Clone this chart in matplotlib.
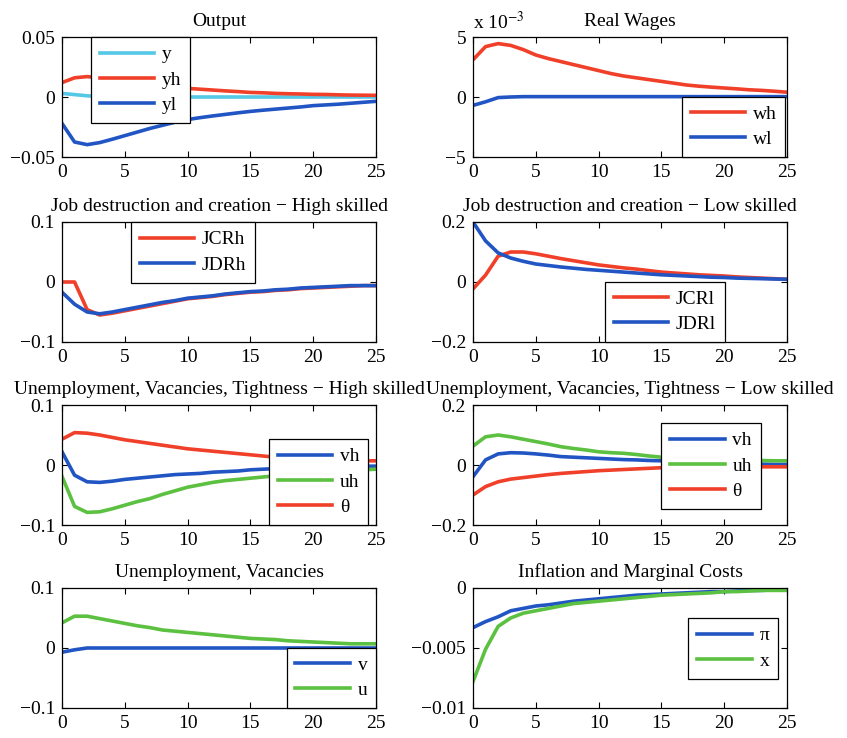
import matplotlib
matplotlib.use("Agg")
import matplotlib.pyplot as plt

plt.rcParams["font.family"] = ["Liberation Serif", "DejaVu Serif"]
plt.rcParams["mathtext.fontset"] = "stix"

periods = list(range(26))

# Output
y_tot = [0.003, 0.002, 0.001, 0.0005, 0.0003, 0.0002, 0.0001] + [0.0] * 19
yh = [0.012, 0.016, 0.017, 0.016, 0.0145, 0.013, 0.0118, 0.0105, 0.0093, 0.0082, 0.0072,
      0.0065, 0.0058, 0.0051, 0.0045, 0.0038, 0.0035, 0.003, 0.0027, 0.0025, 0.0022,
      0.0021, 0.0018, 0.0016, 0.0015, 0.0014]
yl = [-0.022, -0.0375, -0.0397, -0.038, -0.0352, -0.0322, -0.0292, -0.0262, -0.0236, -0.021,
      -0.0188, -0.0172, -0.0158, -0.0145, -0.0132, -0.012, -0.011, -0.0101, -0.0092, -0.0083,
      -0.0072, -0.0066, -0.006, -0.0052, -0.0044, -0.0036]

# Real wages (x 1e-3)
wh = [3.1, 4.2, 4.45, 4.3, 3.95, 3.5, 3.2, 2.95, 2.7, 2.45, 2.2, 1.95, 1.75, 1.6, 1.45, 1.3,
      1.15, 1.0, 0.9, 0.82, 0.75, 0.68, 0.6, 0.55, 0.48, 0.4]
wl = [-0.7, -0.4, -0.05, 0.0] + [0.03] * 22

# Job destruction / creation, high skilled
jcrh = [0.0, 0.0, -0.046, -0.055, -0.052, -0.048, -0.044, -0.04, -0.036, -0.032, -0.028,
        -0.026, -0.024, -0.021, -0.019, -0.017, -0.016, -0.014, -0.013, -0.011, -0.01,
        -0.009, -0.008, -0.007, -0.006, -0.006]
jdrh = [-0.017, -0.037, -0.05, -0.053, -0.05, -0.046, -0.042, -0.038, -0.034, -0.031, -0.027,
        -0.025, -0.023, -0.02, -0.018, -0.016, -0.015, -0.013, -0.012, -0.01, -0.009,
        -0.008, -0.007, -0.006, -0.006, -0.006]

# Job destruction / creation, low skilled
jcrl = [-0.023, 0.023, 0.086, 0.1, 0.1, 0.094, 0.086, 0.078, 0.071, 0.064, 0.057, 0.052,
        0.047, 0.043, 0.038, 0.033, 0.03, 0.027, 0.024, 0.022, 0.02, 0.017, 0.015, 0.013,
        0.011, 0.009]
jdrl = [0.2, 0.137, 0.097, 0.08, 0.069, 0.06, 0.055, 0.05, 0.046, 0.042, 0.039, 0.036, 0.033,
        0.03, 0.027, 0.024, 0.022, 0.02, 0.018, 0.016, 0.015, 0.013, 0.012, 0.011, 0.01, 0.009]

# Unemployment, vacancies, tightness - high skilled
vh_h = [0.022, -0.017, -0.028, -0.029, -0.027, -0.024, -0.022, -0.02, -0.018, -0.016, -0.015,
        -0.014, -0.012, -0.011, -0.01, -0.008, -0.007, -0.006, -0.005, -0.005, -0.004,
        -0.004, -0.003, -0.003, -0.002, -0.002]
uh_h = [-0.019, -0.069, -0.079, -0.078, -0.073, -0.067, -0.061, -0.056, -0.049, -0.043,
        -0.037, -0.033, -0.029, -0.026, -0.024, -0.022, -0.02, -0.018, -0.016, -0.014,
        -0.013, -0.011, -0.01, -0.009, -0.008, -0.007]
th_h = [0.043, 0.054, 0.053, 0.05, 0.046, 0.042, 0.039, 0.036, 0.033, 0.03, 0.027, 0.025,
        0.023, 0.021, 0.019, 0.017, 0.015, 0.013, 0.012, 0.011, 0.01, 0.009, 0.008, 0.008,
        0.007, 0.007]

# Unemployment, vacancies, tightness - low skilled
vh_l = [-0.039, 0.017, 0.037, 0.041, 0.04, 0.037, 0.033, 0.028, 0.026, 0.024, 0.022, 0.02,
        0.018, 0.017, 0.015, 0.014, 0.012, 0.011, 0.009, 0.008, 0.006, 0.005, 0.004, 0.003,
        0.002, 0.002]
uh_l = [0.063, 0.094, 0.1, 0.094, 0.086, 0.078, 0.07, 0.061, 0.055, 0.05, 0.044, 0.041, 0.039,
        0.035, 0.03, 0.026, 0.024, 0.022, 0.02, 0.018, 0.017, 0.016, 0.015, 0.015, 0.014, 0.014]
th_l = [-0.1, -0.072, -0.056, -0.047, -0.042, -0.037, -0.032, -0.028, -0.025, -0.022, -0.019,
        -0.017, -0.015, -0.013, -0.011, -0.009, -0.008, -0.008, -0.007, -0.007, -0.006,
        -0.006, -0.006, -0.006, -0.006, -0.006]

# Unemployment, vacancies
v_tot = [-0.007, -0.003] + [0.0] * 24
u_tot = [0.042, 0.053, 0.053, 0.049, 0.045, 0.041, 0.037, 0.034, 0.03, 0.028, 0.026, 0.024,
         0.022, 0.02, 0.018, 0.016, 0.015, 0.014, 0.012, 0.011, 0.01, 0.009, 0.008, 0.007,
         0.007, 0.007]

# Inflation and marginal costs
infl = [-0.0033, -0.0028, -0.0024, -0.0019, -0.0017, -0.0015, -0.0014, -0.00125, -0.0011,
        -0.001, -0.0009, -0.0008, -0.0007, -0.0006, -0.00055, -0.0005, -0.00045, -0.0004,
        -0.00035, -0.0003, -0.0003, -0.00025, -0.0002, -0.0002, -0.00015, -0.00015]
mc = [-0.0078, -0.0051, -0.0032, -0.0025, -0.0021, -0.0019, -0.0017, -0.0015, -0.0013, -0.0012,
      -0.0011, -0.001, -0.0009, -0.0008, -0.0007, -0.0006, -0.00055, -0.0005, -0.00045,
      -0.0004, -0.0003, -0.0003, -0.00025, -0.0002, -0.0002, -0.0002]

C_CYAN = "#55C8E6"
C_RED = "#F0402A"
C_BLUE = "#2255C4"
C_GREEN = "#5CC040"
FS = 14

W, H = 847, 738
COLS = [62, 473]
TOPS = [37, 222, 405, 588]
AW, AH = 314, 120
M = "\u2212"


def make_ax(fig, row, col):
    left = COLS[col] / W
    bottom = 1 - (TOPS[row] + AH) / H
    return fig.add_axes([left, bottom, AW / W, AH / H])


def style(ax, title, ylim, yticks, yticklabels):
    ax.set_xlim(0, 25)
    ax.set_ylim(*ylim)
    ax.set_xticks([0, 5, 10, 15, 20, 25])
    ax.set_yticks(yticks)
    ax.set_yticklabels(yticklabels)
    ax.tick_params(direction="in", top=True, right=True, length=4, labelsize=FS)
    ax.tick_params(axis="x", pad=5)
    ax.tick_params(axis="y", pad=5)
    for s in ax.spines.values():
        s.set_linewidth(0.9)
    ax.set_title(title, fontsize=FS, pad=8)


def legend(ax, loc, anchor):
    leg = ax.legend(loc=loc, bbox_to_anchor=anchor, fontsize=FS, fancybox=False,
                    edgecolor="black", framealpha=1, borderaxespad=0, handlelength=2.8,
                    handletextpad=0.4, labelspacing=0.4, borderpad=0.45)
    leg.get_frame().set_linewidth(0.9)


fig = plt.figure(figsize=(W / 100, H / 100), dpi=100)
LW = 2.6

ax = make_ax(fig, 0, 0)
ax.plot(periods, y_tot, color=C_CYAN, lw=LW, label="y")
ax.plot(periods, yh, color=C_RED, lw=LW, label="yh")
ax.plot(periods, yl, color=C_BLUE, lw=LW, label="yl")
style(ax, "Output", (-0.05, 0.05), [-0.05, 0, 0.05], [M + "0.05", "0", "0.05"])
legend(ax, "upper left", (0.092, 1.0))

ax = make_ax(fig, 0, 1)
ax.plot(periods, wh, color=C_RED, lw=LW, label="wh")
ax.plot(periods, wl, color=C_BLUE, lw=LW, label="wl")
style(ax, "Real Wages", (-5, 5), [-5, 0, 5], [M + "5", "0", "5"])
ax.text(0.0, 1.03, "x 10$^{-3}$", transform=ax.transAxes, fontsize=FS, ha="left", va="bottom")
legend(ax, "lower right", (0.995, 0.0))

ax = make_ax(fig, 1, 0)
ax.plot(periods, jcrh, color=C_RED, lw=LW, label="JCRh")
ax.plot(periods, jdrh, color=C_BLUE, lw=LW, label="JDRh")
style(ax, "Job destruction and creation " + M + " High skilled", (-0.1, 0.1), [-0.1, 0, 0.1],
      [M + "0.1", "0", "0.1"])
legend(ax, "upper left", (0.22, 1.0))

ax = make_ax(fig, 1, 1)
ax.plot(periods, jcrl, color=C_RED, lw=LW, label="JCRl")
ax.plot(periods, jdrl, color=C_BLUE, lw=LW, label="JDRl")
style(ax, "Job destruction and creation " + M + " Low skilled", (-0.2, 0.2), [-0.2, 0, 0.2],
      [M + "0.2", "0", "0.2"])
legend(ax, "lower left", (0.42, 0.0))

ax = make_ax(fig, 2, 0)
ax.plot(periods, vh_h, color=C_BLUE, lw=LW, label="vh")
ax.plot(periods, uh_h, color=C_GREEN, lw=LW, label="uh")
ax.plot(periods, th_h, color=C_RED, lw=LW, label="\u03b8")
style(ax, "Unemployment, Vacancies, Tightness " + M + " High skilled", (-0.1, 0.1),
      [-0.1, 0, 0.1], [M + "0.1", "0", "0.1"])
legend(ax, "lower left", (0.66, 0.0))

ax = make_ax(fig, 2, 1)
ax.plot(periods, vh_l, color=C_BLUE, lw=LW, label="vh")
ax.plot(periods, uh_l, color=C_GREEN, lw=LW, label="uh")
ax.plot(periods, th_l, color=C_RED, lw=LW, label="\u03b8")
style(ax, "Unemployment, Vacancies, Tightness " + M + " Low skilled", (-0.2, 0.2),
      [-0.2, 0, 0.2], [M + "0.2", "0", "0.2"])
legend(ax, "upper left", (0.60, 0.85))

ax = make_ax(fig, 3, 0)
ax.plot(periods, v_tot, color=C_BLUE, lw=LW, label="v")
ax.plot(periods, u_tot, color=C_GREEN, lw=LW, label="u")
style(ax, "Unemployment, Vacancies", (-0.1, 0.1), [-0.1, 0, 0.1], [M + "0.1", "0", "0.1"])
legend(ax, "lower right", (1.0, 0.0))

ax = make_ax(fig, 3, 1)
ax.plot(periods, infl, color=C_BLUE, lw=LW, label="\u03c0")
ax.plot(periods, mc, color=C_GREEN, lw=LW, label="x")
style(ax, "Inflation and Marginal Costs", (-0.01, 0), [-0.01, -0.005, 0],
      [M + "0.01", M + "0.005", "0"])
legend(ax, "upper left", (0.686, 0.75))

fig.savefig("out.png", dpi=100)
